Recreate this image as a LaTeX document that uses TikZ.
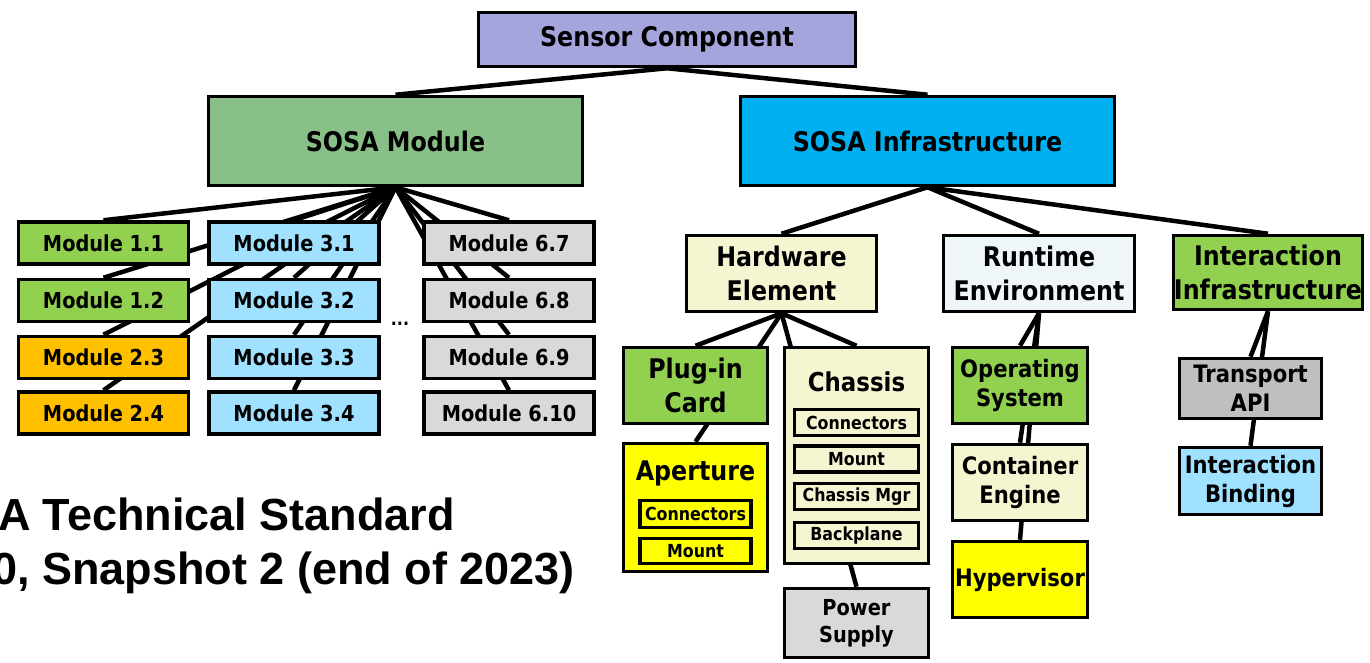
\documentclass[tikz,border=0pt]{standalone}
\usepackage{fontspec}
\newfontfamily\boxfont{DejaVu Sans}[FakeStretch=0.88]
\newfontfamily\titlefont{Liberation Sans}
\usepackage{tikz}
\usetikzlibrary{positioning, backgrounds}

\definecolor{sensorpurple}{HTML}{A5A5DE}
\definecolor{modgreen}{HTML}{88C087}
\definecolor{infrablue}{HTML}{00B0F0}
\definecolor{leafgreen}{HTML}{92D050}
\definecolor{leaforange}{HTML}{FFC000}
\definecolor{leafblue}{HTML}{9FE1FF}
\definecolor{leafgray}{HTML}{D9D9D9}
\definecolor{apigray}{HTML}{BFBFBF}
\definecolor{paleyellow}{HTML}{F5F5D2}
\definecolor{paleblue}{HTML}{EEF6F9}
\definecolor{brightyellow}{HTML}{FFFF00}

\newcommand{\bfs}[2]{\boxfont\bfseries\fontsize{#1}{#2}\selectfont}

\tikzset{
	box/.style={draw=black, line width=3.5pt, inner sep=0pt, align=center},
	link/.style={line width=4.5pt, black},
}

\begin{document}
\begin{tikzpicture}[x=1pt, y=-1pt]

\useasboundingbox (0,0) rectangle (1370,663);
\clip (0,0) rectangle (1370,663);

% top levels
\node[box, fill=sensorpurple, minimum width=377pt, minimum height=54pt, font=\bfs{27}{32}] (sensor) at (667,39.5) {Sensor Component};
\node[box, fill=modgreen, minimum width=374pt, minimum height=89pt, font=\bfs{27}{32}] (sosamod) at (395.5,141) {SOSA Module};
\node[box, fill=infrablue, minimum width=374pt, minimum height=89pt, font=\bfs{27}{32}] (sosainfra) at (927.5,141) {SOSA Infrastructure};

% module grid
\foreach \id/\lab/\col/\x/\y in {
	m11/1.1/leafgreen/103.5/243, m12/1.2/leafgreen/103.5/300.5,
	m23/2.3/leaforange/103.5/357.5, m24/2.4/leaforange/103.5/413,
	m31/3.1/leafblue/294/243, m32/3.2/leafblue/294/300.5,
	m33/3.3/leafblue/294/357.5, m34/3.4/leafblue/294/413,
	m67/6.7/leafgray/509/243, m68/6.8/leafgray/509/300.5,
	m69/6.9/leafgray/509/357.5, m610/6.10/leafgray/509/413} {
	\node[box, fill=\col, minimum width=170pt, minimum height=42pt, font=\bfs{22}{26}] (\id) at (\x,\y) {Module \lab};
}
\node[font=\bfs{18}{22}] (dots) at (400,324) {...};

% infrastructure
\node[box, fill=paleyellow, minimum width=190pt, minimum height=76pt, font=\bfs{27}{34}] (hw) at (781.5,273.5) {Hardware\\Element};
\node[box, fill=paleblue, minimum width=191pt, minimum height=76pt, font=\bfs{27}{34}] (rte) at (1039,273.5) {Runtime\\Environment};
\node[box, fill=leafgreen, minimum width=189pt, minimum height=74pt, font=\bfs{27}{34}] (iinfra) at (1268,272.5) {Interaction\\Infrastructure};

% hardware
\node[box, fill=leafgreen, minimum width=144pt, minimum height=76pt, font=\bfs{27}{34}] (plugin) at (695.5,385.5) {Plug-in\\Card};
\node[box, fill=brightyellow, minimum width=144pt, minimum height=128pt] (aperture) at (695.5,507.5) {};
\node[font=\bfs{27}{34}] (apertitle) at (695.5,473) {Aperture};
\node[box, fill=brightyellow, minimum width=111pt, minimum height=27pt, font=\bfs{18}{22}] (apconn) at (695.5,514) {Connectors};
\node[box, fill=brightyellow, minimum width=111pt, minimum height=25pt, font=\bfs{18}{22}] (apmount) at (695.5,551) {Mount};

\node[box, fill=paleyellow, minimum width=144pt, minimum height=216pt] (chassis) at (856.5,455.5) {};
\node[font=\bfs{26}{32}] (chassistitle) at (856.5,382) {Chassis};
\foreach \id/\lab/\y in {chconn/Connectors/422.5, chmount/Mount/459, chmgr/Chassis Mgr/496.5, chback/Backplane/535.5} {
	\node[box, fill=paleyellow, minimum width=124pt, minimum height=26pt, font=\bfs{18}{22}] (\id) at (856.5,\y) {\lab};
}
\node[box, fill=leafgray, minimum width=144pt, minimum height=69pt, font=\bfs{22}{27}] (power) at (856.5,623) {Power\\Supply};

% runtime
\node[box, fill=leafgreen, minimum width=135pt, minimum height=76pt, font=\bfs{24}{29}] (os) at (1020,385.5) {Operating\\System};
\node[box, fill=paleyellow, minimum width=135pt, minimum height=76pt, font=\bfs{24}{29}] (container) at (1020,482.5) {Container\\Engine};
\node[box, fill=brightyellow, minimum width=135pt, minimum height=76pt, font=\bfs{24}{29}] (hyper) at (1020,579.5) {Hypervisor};

% interaction
\node[box, fill=apigray, minimum width=142pt, minimum height=60pt, font=\bfs{24}{29}] (transport) at (1250.5,388.5) {Transport\\API};
\node[box, fill=leafblue, minimum width=142pt, minimum height=67pt, font=\bfs{24}{29}] (binding) at (1250.5,481) {Interaction\\Binding};

% caption
\node[anchor=base east, inner sep=0pt, font=\titlefont\bfseries\fontsize{45}{54}\selectfont] (title1) at (455,530) {A Technical Standard};
\node[anchor=base east, inner sep=0pt, font=\titlefont\bfseries\fontsize{45}{54}\selectfont] (title2) at (575,584) {0, Snapshot 2 (end of 2023)};

% connectors, behind the boxes
\begin{pgfonlayer}{background}
\draw[link] (sensor.south) -- (sosamod.north);
\draw[link] (sensor.south) -- (sosainfra.north);
\foreach \id in {m11,m12,m23,m24,m31,m32,m33,m34,m67,m68,m69,m610}
	\draw[link] (sosamod.south) -- (\id.north);
\foreach \id in {hw,rte,iinfra}
	\draw[link] (sosainfra.south) -- (\id.north);
\foreach \id in {plugin,aperture,chassis,power}
	\draw[link] (hw.south) -- (\id.north);
\foreach \id in {os,container,hyper}
	\draw[link] (rte.south) -- (\id.north);
\foreach \id in {transport,binding}
	\draw[link] (iinfra.south) -- (\id.north);
\end{pgfonlayer}

\end{tikzpicture}
\end{document}
